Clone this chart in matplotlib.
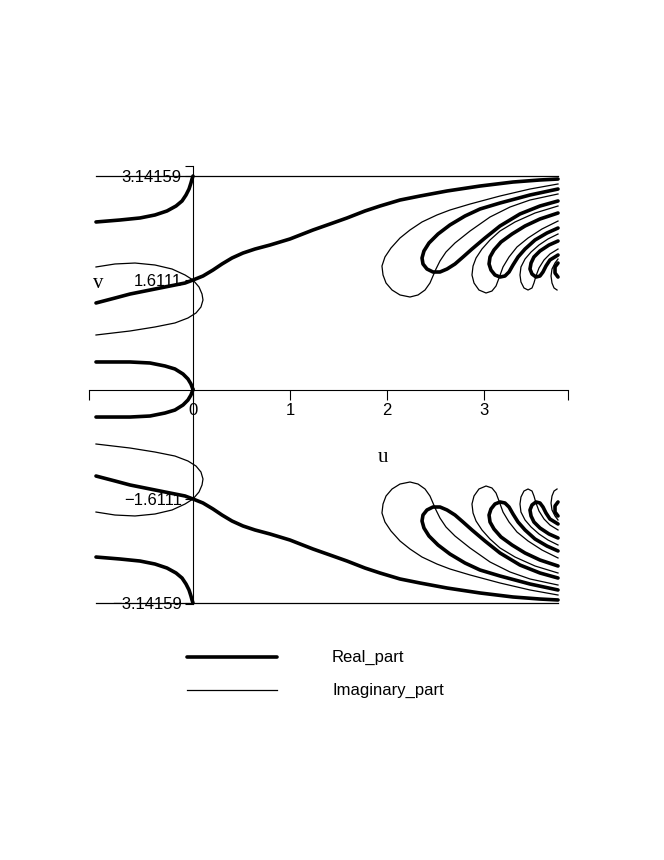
import matplotlib
matplotlib.use("Agg")
import matplotlib.pyplot as plt
from matplotlib.lines import Line2D

plt.rcParams["font.family"] = ["Liberation Sans", "DejaVu Sans"]

# ── Contour traces (upper half, v >= 0) ───────────────────────────────────
# The picture is symmetric about v = 0, so each trace is drawn at v and -v.

# Real part (thick)
re_a_u = [-1.0, -0.753, -0.546, -0.392, -0.268, -0.175, -0.113, -0.072, -0.041,
          -0.021, -0.010, 0.0]
re_a_v = [2.465, 2.494, 2.524, 2.568, 2.627, 2.700, 2.774, 2.862, 2.950,
          3.039, 3.097, 3.141]

re_b_u = [-1.0, -0.804, -0.649, -0.443, -0.237, -0.082, 0.0, 0.103, 0.206, 0.299,
          0.402, 0.515, 0.639, 0.794, 1.0, 1.237, 1.412, 1.588, 1.773, 1.928,
          2.134, 2.340, 2.619, 2.959, 3.299, 3.577, 3.763]
re_b_v = [1.273, 1.346, 1.405, 1.464, 1.523, 1.567, 1.611, 1.670, 1.758, 1.847,
          1.935, 2.008, 2.067, 2.126, 2.215, 2.347, 2.435, 2.524, 2.627, 2.700,
          2.788, 2.847, 2.921, 2.994, 3.053, 3.083, 3.097]

re_c_u = [-1.0, -0.649, -0.443, -0.289, -0.186, -0.103, -0.052, -0.021, 0.0]
re_c_v = [0.405, 0.405, 0.390, 0.346, 0.302, 0.228, 0.155, 0.081, 0.0]

re_l1_u = [3.763, 3.474, 3.165, 2.959, 2.804, 2.649, 2.526, 2.433, 2.381, 2.361,
           2.371, 2.412, 2.474, 2.546, 2.619, 2.701, 2.784, 2.876, 3.010, 3.165,
           3.371, 3.577, 3.763]
re_l1_v = [2.950, 2.862, 2.744, 2.656, 2.553, 2.421, 2.288, 2.156, 2.038, 1.935,
           1.847, 1.773, 1.729, 1.729, 1.773, 1.847, 1.950, 2.067, 2.229, 2.406,
           2.583, 2.700, 2.774]

re_l2_u = [3.763, 3.577, 3.423, 3.289, 3.175, 3.103, 3.062, 3.052, 3.072, 3.113,
           3.165, 3.216, 3.258, 3.299, 3.351, 3.423, 3.526, 3.649, 3.763]
re_l2_v = [2.597, 2.509, 2.406, 2.288, 2.170, 2.053, 1.950, 1.847, 1.758, 1.685,
           1.655, 1.670, 1.729, 1.832, 1.950, 2.067, 2.200, 2.303, 2.376]

re_l3_u = [3.763, 3.670, 3.577, 3.515, 3.485, 3.474, 3.495, 3.536, 3.577, 3.608,
           3.639, 3.680, 3.763]
re_l3_v = [2.185, 2.126, 2.038, 1.950, 1.861, 1.773, 1.699, 1.655, 1.670, 1.729,
           1.817, 1.906, 1.979]

re_l4_u = [3.763, 3.732, 3.732, 3.763]
re_l4_v = [1.861, 1.803, 1.714, 1.655]

# Imaginary part (thin)
im_top_u = [-1.0, 3.763]
im_top_v = [3.14159, 3.14159]

im_d_u = [-1.0, -0.804, -0.598, -0.392, -0.216, -0.082, 0.0, 0.062, 0.093, 0.103,
          0.082, 0.031, -0.052, -0.186, -0.392, -0.649, -1.0]
im_d_v = [1.803, 1.847, 1.861, 1.832, 1.773, 1.685, 1.611, 1.508, 1.405, 1.317,
          1.214, 1.126, 1.052, 0.979, 0.920, 0.861, 0.802]

im_l1_u = [3.763, 3.474, 3.165, 2.856, 2.649, 2.515, 2.361, 2.237, 2.134, 2.041,
           1.979, 1.948, 1.959, 1.990, 2.052, 2.134, 2.237, 2.320, 2.392, 2.443,
           2.474, 2.505, 2.546, 2.608, 2.701, 2.856, 3.062, 3.268, 3.474, 3.763]
im_l1_v = [3.024, 2.950, 2.847, 2.729, 2.641, 2.568, 2.465, 2.347, 2.229, 2.082,
           1.950, 1.817, 1.685, 1.567, 1.464, 1.391, 1.361, 1.391, 1.464, 1.567,
           1.670, 1.773, 1.891, 2.023, 2.156, 2.332, 2.538, 2.685, 2.788, 2.877]

im_l2_u = [3.763, 3.526, 3.320, 3.165, 3.062, 2.979, 2.918, 2.887, 2.876, 2.897,
           2.948, 3.021, 3.082, 3.124, 3.155, 3.196, 3.258, 3.340, 3.454, 3.598, 3.763]
im_l2_v = [2.700, 2.597, 2.465, 2.332, 2.200, 2.067, 1.935, 1.817, 1.685, 1.567,
           1.464, 1.420, 1.449, 1.523, 1.641, 1.803, 1.950, 2.097, 2.229, 2.362, 2.479]

im_l3_u = [3.763, 3.660, 3.567, 3.485, 3.423, 3.381, 3.371, 3.381, 3.412, 3.454,
           3.495, 3.515, 3.536, 3.567, 3.619, 3.680, 3.763]
im_l3_v = [2.288, 2.215, 2.126, 2.023, 1.920, 1.803, 1.685, 1.582, 1.494, 1.464,
           1.494, 1.567, 1.670, 1.788, 1.906, 1.994, 2.067]

im_l4_u = [3.763, 3.732, 3.701, 3.691, 3.701, 3.722, 3.753]
im_l4_v = [1.920, 1.861, 1.773, 1.670, 1.567, 1.494, 1.464]

real_curves = [(re_a_u, re_a_v), (re_b_u, re_b_v), (re_c_u, re_c_v),
               (re_l1_u, re_l1_v), (re_l2_u, re_l2_v), (re_l3_u, re_l3_v),
               (re_l4_u, re_l4_v)]
imag_curves = [(im_top_u, im_top_v), (im_d_u, im_d_v), (im_l1_u, im_l1_v),
               (im_l2_u, im_l2_v), (im_l3_u, im_l3_v), (im_l4_u, im_l4_v)]

v_ticks = [-3.14159, -1.6111, 1.6111, 3.14159]
v_tick_labels = ["\u22123.14159", "\u22121.6111", "1.6111", "3.14159"]
u_ticks = [0, 1, 2, 3]

# ── Figure ─────────────────────────────────────────────────────────────────
fig = plt.figure(figsize=(6.64, 8.60), dpi=100)
ax = fig.add_axes([0.12997, 0.28631, 0.73042, 0.52156])
ax.set_xlim(-1.1, 3.9)
ax.set_ylim(-3.3, 3.3)

for cu, cv in real_curves:
    for sgn in (1, -1):
        ax.plot(cu, [sgn * v for v in cv], color="black", lw=2.6,
                solid_capstyle="round", solid_joinstyle="round", zorder=3)
for cu, cv in imag_curves:
    for sgn in (1, -1):
        ax.plot(cu, [sgn * v for v in cv], color="black", lw=0.9,
                solid_joinstyle="round", zorder=2)

# Maple-style axes crossing at the origin
for side in ("top", "right"):
    ax.spines[side].set_visible(False)
ax.spines["left"].set_position(("data", 0))
ax.spines["bottom"].set_position(("data", 0))
ax.spines["left"].set_bounds(-3.16, 3.29)
ax.spines["bottom"].set_bounds(-1.072, 3.866)
for side in ("left", "bottom"):
    ax.spines[side].set_linewidth(0.8)

ax.set_xticks(u_ticks)
ax.set_xticks([-1.072, 3.866], minor=True)
ax.set_yticks(v_ticks)
ax.set_yticklabels(v_tick_labels)
ax.set_yticks([3.29, -3.16], minor=True)
ax.tick_params(axis="x", which="both", direction="out", length=7, width=0.8,
               pad=3, labelsize=12)
ax.tick_params(axis="y", which="both", direction="out", length=6, width=0.8,
               pad=2, labelsize=12)

fig.text(98 / 664, 1 - 283 / 860, "v", family="Liberation Serif", fontsize=15,
         ha="center", va="center")
fig.text(383 / 664, 1 - 457 / 860, "u", family="Liberation Serif", fontsize=15,
         ha="center", va="center")

# Legend
fig.add_artist(Line2D([187 / 664, 277 / 664], [1 - 657 / 860, 1 - 657 / 860],
                      color="black", lw=2.6, solid_capstyle="round"))
fig.add_artist(Line2D([187 / 664, 277 / 664], [1 - 690 / 860, 1 - 690 / 860],
                      color="black", lw=0.9))
fig.text(332 / 664, 1 - 657 / 860, "Real_part", fontsize=12, va="center")
fig.text(332 / 664, 1 - 690 / 860, "Imaginary_part", fontsize=12, va="center")

plt.savefig("out.png", dpi=100)
